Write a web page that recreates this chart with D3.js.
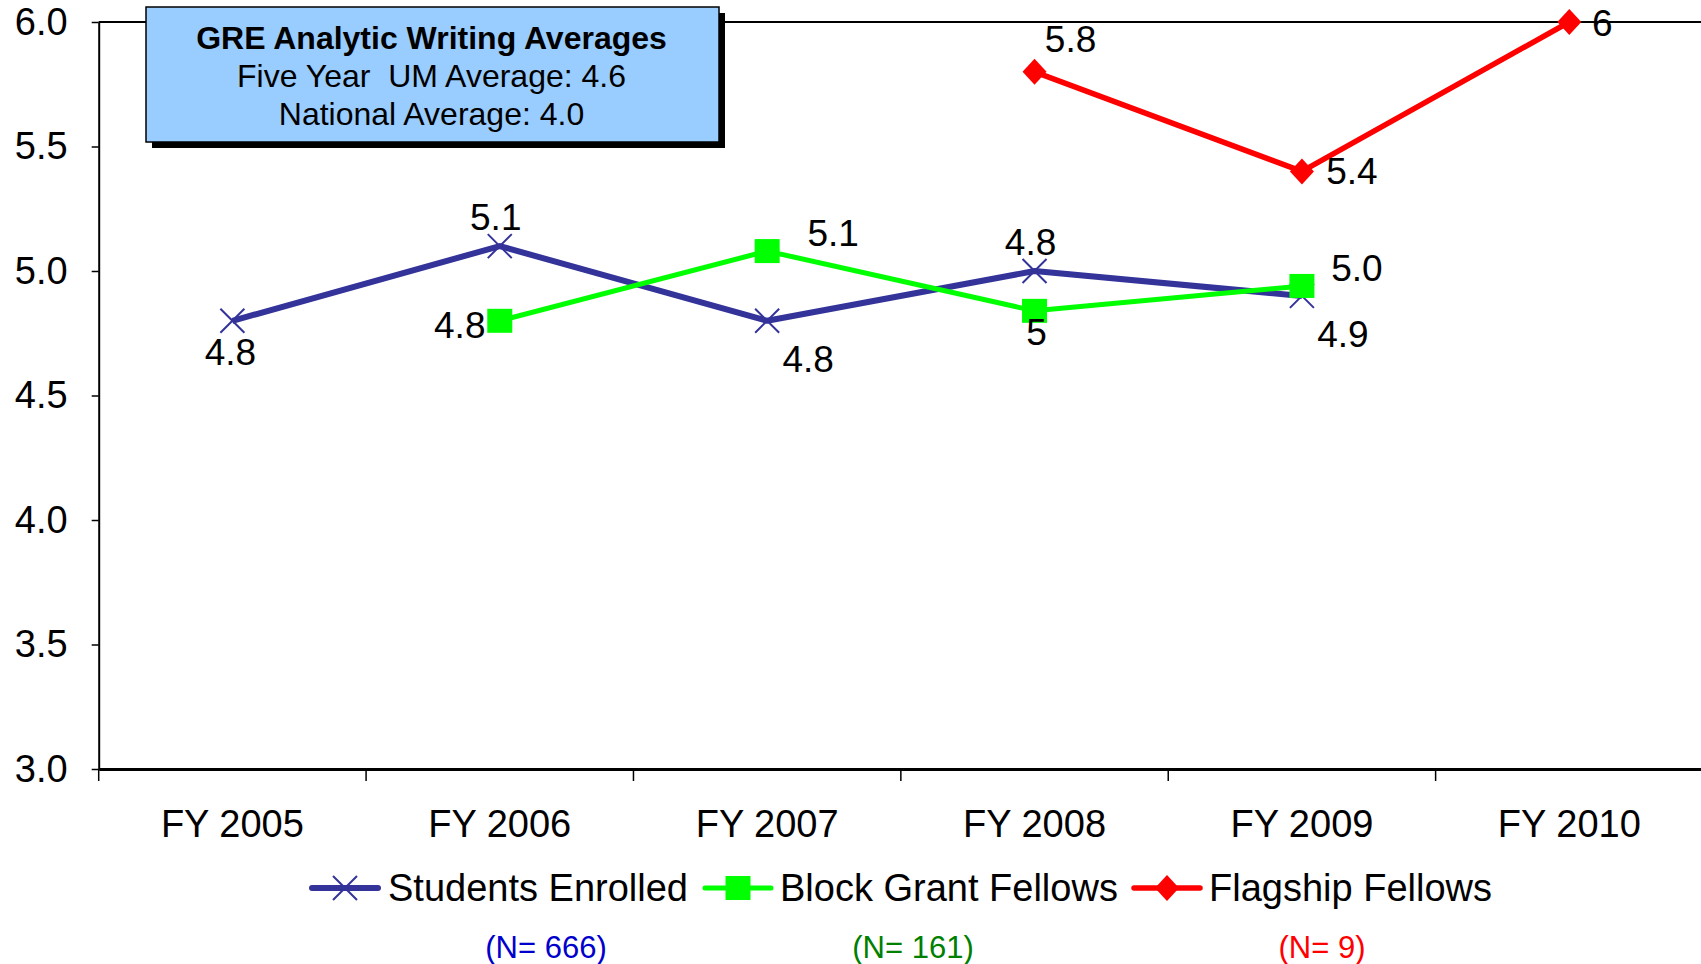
<!DOCTYPE html>
<html><head><meta charset="utf-8">
<script src="https://cdn.jsdelivr.net/npm/d3@7"></script>
<style>body{margin:0;background:#fff}svg{display:block;font-family:"Liberation Sans",Arial,sans-serif}</style>
</head><body><svg id="c" width="1701" height="964"></svg>
<script>
const categories = ["FY 2005","FY 2006","FY 2007","FY 2008","FY 2009","FY 2010"];
const yTicks = [3.0,3.5,4.0,4.5,5.0,5.5,6.0];
const seriesNames = ["Students Enrolled","Block Grant Fellows","Flagship Fellows"];
const enrolledValues = [4.8,5.1,4.8,5.0,4.9,null];
const enrolledLabels = ["4.8","5.1","4.8","4.8","4.9",null];
const blockValues = [null,4.8,5.08,4.84,4.94,null];
const blockLabels = [null,"4.8","5.1","5","5.0",null];
const flagshipValues = [null,null,null,5.8,5.4,6.0];
const flagshipLabels = [null,null,null,"5.8","5.4","6"];
const nCounts = ["(N= 666)","(N= 161)","(N= 9)"];
const boxLines = ["GRE Analytic Writing Averages","Five Year  UM Average: 4.6","National Average: 4.0"];

// styles / placement (not data)
const colors = ["#333399","#00FF00","#FF0000"];
const nColors = ["#0000CC","#008000","#FF0000"];
const labelPlace = [
  ["below","above","belowright","above","belowright",null],
  [null,"left","aboveright","below2","aboveright3",null],
  [null,null,null,"aboveright2","right","right2"]
];
const offsets = {below:[-2,31],below2:[2,21],above:[-4,-29],belowright:[41,38],left:[-40,4],aboveright:[66,-18],aboveright3:[55,-18],aboveright2:[36,-33],right:[50,0],right2:[33,1]};

const svg = d3.select("#c");
const W=1701,H=964;
svg.append("rect").attr("width",W).attr("height",H).attr("fill","#fff");
const x0=98.7, x1=1703, yTop=22, yBot=769;
const x = d3.scaleBand().domain(categories).range([x0,x1]);
const y = d3.scaleLinear().domain([3,6]).range([yBot,yTop]);
const cx = c => x(c)+x.bandwidth()/2;

// top border line
svg.append("line").attr("x1",x0).attr("x2",W).attr("y1",y(6)).attr("y2",y(6)).attr("stroke","#000").attr("stroke-width",2);

// y axis
const ya = svg.append("g").attr("transform",`translate(${x0},0)`)
  .call(d3.axisLeft(y).tickValues(yTicks).tickFormat(d3.format(".1f")).tickSize(7).tickSizeOuter(0).tickPadding(24));
ya.select(".domain").attr("stroke","#000").attr("stroke-width",2);
ya.selectAll(".tick line").attr("stroke","#000").attr("stroke-width",1.5);
ya.selectAll("text").attr("font-size",38).attr("fill","#000").attr("font-family","Liberation Sans, Arial, sans-serif");

// x axis
const xa = svg.append("g").attr("transform",`translate(0,${yBot})`)
  .call(d3.axisBottom(x).tickSize(0).tickPadding(41));
xa.select(".domain").attr("stroke","#000").attr("stroke-width",3);
xa.selectAll("text").attr("font-size",38).attr("fill","#000").attr("font-family","Liberation Sans, Arial, sans-serif");
svg.append("g").selectAll("line").data(categories.concat(["end"])).join("line")
  .attr("x1",d=>d==="end"?x1:x(d)).attr("x2",d=>d==="end"?x1:x(d))
  .attr("y1",yBot).attr("y2",yBot+12).attr("stroke","#000").attr("stroke-width",1.5);

// series
const allValues=[enrolledValues,blockValues,flagshipValues];
const allLabels=[enrolledLabels,blockLabels,flagshipLabels];
const widths=[6,5,5.5];
function marker(g,i,px,py){
  if(i===0){
    g.append("path").attr("d",`M${px-12},${py-12}L${px+12},${py+12}M${px-12},${py+12}L${px+12},${py-12}`)
      .attr("stroke",colors[0]).attr("stroke-width",2).attr("fill","none");
  } else if(i===1){
    g.append("rect").attr("x",px-12.5).attr("y",py-12).attr("width",25).attr("height",24).attr("fill",colors[1]);
  } else {
    g.append("path").attr("d",`M${px},${py-13}L${px+12},${py}L${px},${py+13}L${px-12},${py}Z`).attr("fill",colors[2]);
  }
}
const order=[0,1,2];
order.forEach(i=>{
  const pts = categories.map((c,k)=>({c,v:allValues[i][k],k})).filter(d=>d.v!=null);
  const line = d3.line().x(d=>cx(d.c)).y(d=>y(d.v));
  svg.append("path").datum(pts).attr("d",line).attr("fill","none").attr("stroke",colors[i]).attr("stroke-width",widths[i]).attr("stroke-linejoin","round");
});
order.forEach(i=>{
  const g=svg.append("g");
  categories.forEach((c,k)=>{
    const v=allValues[i][k]; if(v==null) return;
    marker(g,i,cx(c),y(v));
  });
});
// labels
order.forEach(i=>{
  categories.forEach((c,k)=>{
    const v=allValues[i][k]; if(v==null) return;
    const o=offsets[labelPlace[i][k]];
    svg.append("text").attr("x",cx(c)+o[0]).attr("y",y(v)+o[1]).attr("dy","0.35em")
      .attr("text-anchor","middle").attr("font-size",37).attr("fill","#000").text(allLabels[i][k]);
  });
});

// text box
const bx=146,by=7,bw=573,bh=135;
svg.append("rect").attr("x",bx+6).attr("y",by+6).attr("width",bw).attr("height",bh).attr("fill","#000");
svg.append("rect").attr("x",bx).attr("y",by).attr("width",bw).attr("height",bh).attr("fill","#99CCFF").attr("stroke","#000").attr("stroke-width",1.5);
boxLines.forEach((t,k)=>{
  svg.append("text").attr("x",bx+bw/2-1).attr("y",38+k*38).attr("dy","0.35em").attr("text-anchor","middle")
    .style("white-space","pre")
    .attr("font-size",32).attr("font-weight",k===0?"bold":"normal").attr("fill","#000").text(t);
});

// legend
const legendItems=[{sx:312,tx:388},{sx:705,tx:780},{sx:1134,tx:1209}];
const ly=888;
legendItems.forEach((L,i)=>{
  svg.append("line").attr("x1",L.sx).attr("x2",L.sx+66).attr("y1",ly).attr("y2",ly).attr("stroke",colors[i]).attr("stroke-width",widths[i]).attr("stroke-linecap","round");
  const g=svg.append("g"); marker(g,i,L.sx+33,ly);
  svg.append("text").attr("x",L.tx).attr("y",ly).attr("dy","0.35em").attr("font-size",38).attr("fill","#000").text(seriesNames[i]);
});
// N counts
const nX=[546,913,1322];
nCounts.forEach((t,i)=>{
  svg.append("text").attr("x",nX[i]).attr("y",947).attr("dy","0.35em").attr("text-anchor","middle").attr("font-size",31).attr("fill",nColors[i]).text(t);
});
</script></body></html>
